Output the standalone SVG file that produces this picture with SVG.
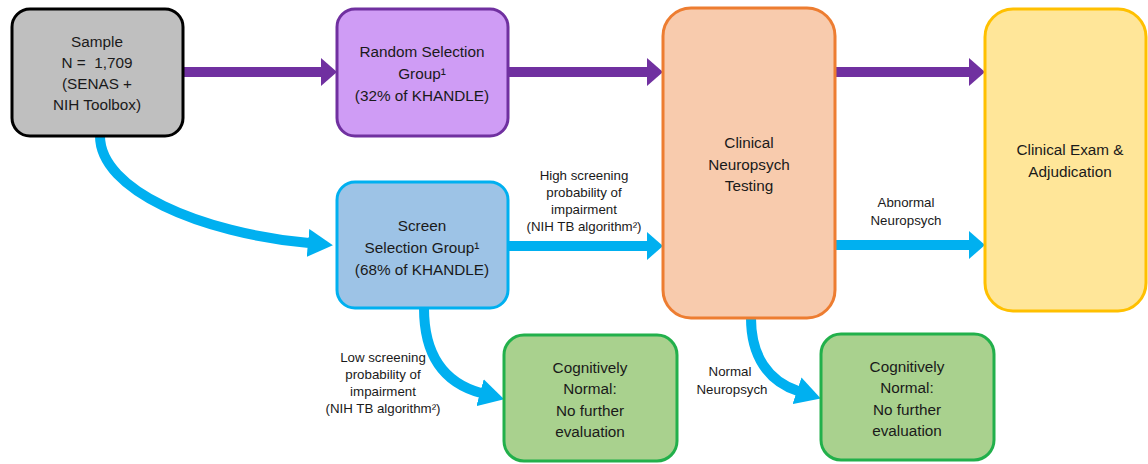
<svg xmlns="http://www.w3.org/2000/svg" width="1148" height="464" viewBox="0 0 1148 464">
<defs>
<style>
.box{stroke-width:3}
.t{font-family:"Liberation Sans",Arial,sans-serif;font-size:15.3px;fill:#1a1a1a;text-anchor:middle;white-space:pre}
.l{font-family:"Liberation Sans",Arial,sans-serif;font-size:13.3px;fill:#1a1a1a;text-anchor:middle}
.pa{fill:none;stroke:#7030a0;stroke-width:10}
.ba{fill:none;stroke:#00b0f0;stroke-width:10}
</style>
<marker id="hp" markerUnits="userSpaceOnUse" viewBox="0 0 16 28" markerWidth="16" markerHeight="28" refX="1" refY="14" orient="auto"><path d="M0,0 L16,14 L0,28 z" fill="#7030a0"/></marker>
<marker id="hb" markerUnits="userSpaceOnUse" viewBox="0 0 16 28" markerWidth="16" markerHeight="28" refX="1" refY="14" orient="auto"><path d="M0,0 L16,14 L0,28 z" fill="#00b0f0"/></marker>
<marker id="hc" markerUnits="userSpaceOnUse" viewBox="0 0 25 28" markerWidth="25" markerHeight="28" refX="1" refY="14" orient="auto"><path d="M0,0 L25,14 L0,28 z" fill="#00b0f0"/></marker>
</defs>
<rect width="1148" height="464" fill="#ffffff"/>
<g id="connectors">
<path class="pa" d="M183,72 L322,72" marker-end="url(#hp)"/>
<path class="pa" d="M508,72 L648,72" marker-end="url(#hp)"/>
<path class="pa" d="M835,72 L970,72" marker-end="url(#hp)"/>
<path class="ba" d="M508,246 L648,246" marker-end="url(#hb)"/>
<path class="ba" d="M835,245 L970,245" marker-end="url(#hb)"/>
<path class="ba" d="M100,136 C100,190 200,233 309,243" marker-end="url(#hc)"/>
<path class="ba" d="M424,308 C424,360 448,384 481,393" marker-end="url(#hc)"/>
<path class="ba" d="M751,318 C751,356 768,381 798,391" marker-end="url(#hc)"/>
<text class="l" x="584" y="180">High screening</text>
<text class="l" x="584" y="197">probability of</text>
<text class="l" x="584" y="214">impairment</text>
<text class="l" x="584" y="231">(NIH TB algorithm²)</text>
<text class="l" x="906" y="207">Abnormal</text>
<text class="l" x="906" y="225">Neuropsych</text>
<text class="l" x="383" y="362">Low screening</text>
<text class="l" x="383" y="379">probability of</text>
<text class="l" x="383" y="396">impairment</text>
<text class="l" x="383" y="413">(NIH TB algorithm²)</text>
<text class="l" x="730" y="376">Normal</text>
<text class="l" x="732" y="394">Neuropsych</text>
</g>
<g id="sample">
<rect class="box" x="12" y="9" width="171" height="127" rx="18" fill="#bfbfbf" stroke="#000000"/>
<text class="t" x="97" y="47">Sample</text>
<text class="t" x="97" y="68" xml:space="preserve">N =  1,709</text>
<text class="t" x="97" y="89">(SENAS +</text>
<text class="t" x="97" y="110">NIH Toolbox)</text>
</g>
<g id="random">
<rect class="box" x="337" y="9" width="171" height="127" rx="18" fill="#cf9cf5" stroke="#7030a0"/>
<text class="t" x="422" y="57">Random Selection</text>
<text class="t" x="422" y="79">Group¹</text>
<text class="t" x="422" y="101">(32% of KHANDLE)</text>
</g>
<g id="screen">
<rect class="box" x="337" y="182" width="171" height="126" rx="18" fill="#9dc3e6" stroke="#00b0f0"/>
<text class="t" x="422" y="231">Screen</text>
<text class="t" x="422" y="253">Selection Group¹</text>
<text class="t" x="422" y="275">(68% of KHANDLE)</text>
</g>
<g id="clinical">
<rect class="box" x="663" y="8" width="172" height="310" rx="28" fill="#f8cbad" stroke="#ed7d31"/>
<text class="t" x="749" y="148">Clinical</text>
<text class="t" x="749" y="170">Neuropsych</text>
<text class="t" x="749" y="191">Testing</text>
</g>
<g id="exam">
<rect class="box" x="985" y="9" width="161" height="302" rx="28" fill="#ffe699" stroke="#ffc000"/>
<text class="t" x="1070" y="155">Clinical Exam &amp;</text>
<text class="t" x="1070" y="177">Adjudication</text>
</g>
<g id="normal1">
<rect class="box" x="504" y="335" width="173" height="126" rx="20" fill="#a9d18e" stroke="#22b04b"/>
<text class="t" x="590" y="373">Cognitively</text>
<text class="t" x="590" y="394">Normal:</text>
<text class="t" x="590" y="416">No further</text>
<text class="t" x="590" y="437">evaluation</text>
</g>
<g id="normal2">
<rect class="box" x="821" y="334" width="173" height="126" rx="20" fill="#a9d18e" stroke="#22b04b"/>
<text class="t" x="907" y="372">Cognitively</text>
<text class="t" x="907" y="393">Normal:</text>
<text class="t" x="907" y="415">No further</text>
<text class="t" x="907" y="436">evaluation</text>
</g>
</svg>
